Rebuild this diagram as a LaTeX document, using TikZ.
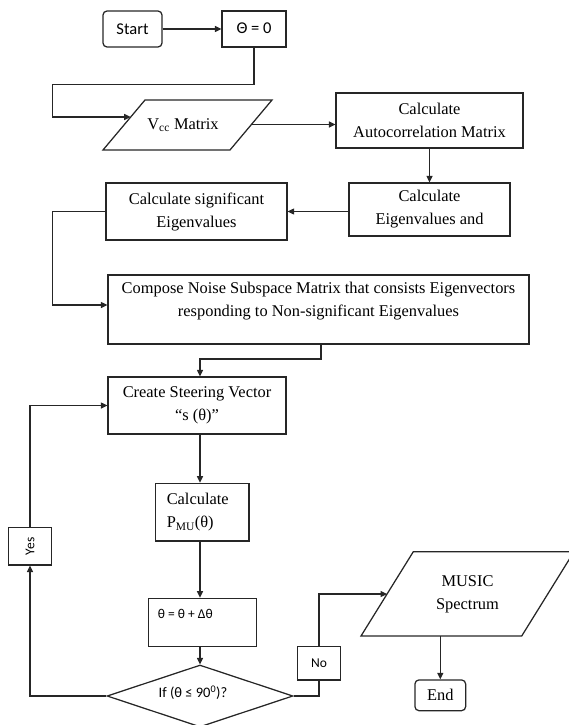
\documentclass[tikz,border=0pt]{standalone}
\usepackage{fontspec}
\setmainfont{Liberation Serif}
\newfontfamily\carlito{Carlito}
\usetikzlibrary{arrows.meta,shapes.geometric,calc}
\newcommand\fserif{\fontsize{16.4bp}{23bp}\selectfont}
\newcommand\fsansA{\carlito\fontsize{16.5bp}{19bp}\selectfont}
\newcommand\fsansB{\carlito\fontsize{13.5bp}{16bp}\selectfont}
\newcommand\fsansC{\carlito\fontsize{14.5bp}{17bp}\selectfont}
\begin{document}
\begin{tikzpicture}[x=1bp,y=-1bp,
  box/.style={draw=black!85, line width=1.25bp, inner sep=0pt, align=center, font=\fserif},
  arr/.style={draw=black!85, line width=1.25bp, -{Triangle[length=6.5bp,width=6bp]}},
  plain/.style={draw=black!85, line width=1.25bp, line join=miter},
  txt/.style={inner sep=0pt, align=center}]
\useasboundingbox (0,0) rectangle (569,725);
% parallelogram outlines
\draw[plain] (103,150) -- (145,100) -- (272,100) -- (230,150) -- cycle;
\draw[plain] (361,636) -- (413.3,551.7) -- (574,551.7) -- (521.7,636) -- cycle;
% nodes
\node[box, rounded corners=4bp, minimum width=59bp, minimum height=36bp, font=\fsansA] (start) at (132.5,29) {Start};
\node[box, minimum width=64bp, minimum height=36bp, font=\fsansA] (theta0) at (254,29) {\raisebox{2bp}{Θ = 0}};
\node[txt, font=\fserif] (vcc) at (183,125) {V\textsubscript{cc} Matrix};
\node[box, minimum width=187bp, minimum height=55bp] (auto) at (429.5,120.5) {Calculate\\Autocorrelation Matrix};
\node[box, minimum width=161bp, minimum height=53bp] (eig) at (429.5,209.5) {Calculate\\Eigenvalues and};
\node[box, minimum width=181bp, minimum height=57bp] (sig) at (196.5,211.5) {Calculate significant\\Eigenvalues};
\node[box, minimum width=421bp, minimum height=69bp] (comp) at (318.5,309.5) {};
\node[txt, font=\fserif] (comptext) at (318.5,301.5) {Compose Noise Subspace Matrix that consists Eigenvectors\\responding to Non-significant Eigenvalues};
\node[box, minimum width=178bp, minimum height=57bp] (steer) at (197,405.5) {Create Steering Vector\\“s (θ)”};
\node[box, minimum width=93.3bp, minimum height=57.7bp, align=left, text width=71.3bp, inner xsep=11bp] (calcp) at (202.4,512.2) {Calculate\\P\textsubscript{MU}(θ)};
\node[box, minimum width=108.4bp, minimum height=48.4bp] (inc) at (202.5,622.5) {};
\node[txt, font=\fsansB, anchor=west] (inctext) at (157.7,614) {θ = θ + Δθ};
\node[box, diamond, minimum width=186bp, minimum height=62bp] (dec) at (200,696) {};
\node[txt, font=\fsansC] (dectext) at (193,693) {If (θ ≤ 90\textsuperscript{0})?};
\node[box, minimum width=43.4bp, minimum height=37.3bp, font=\fsansB] (yes) at (30,546.3) {\rotatebox{90}{Yes}};
\node[box, minimum width=43.4bp, minimum height=33.3bp, font=\fsansB] (no) at (319,663.3) {No};
\node[txt, font=\fserif] (music) at (467.5,594) {MUSIC\\Spectrum};
\node[box, rounded corners=4bp, minimum width=50.7bp, minimum height=30.7bp] (end) at (440.3,695.3) {End};
% helper coordinates
\coordinate (k1) at (52.5,84.5);
\coordinate (vccin) at (130.7,117);
\coordinate (vccout) at (251,124.5);
\coordinate (musin) at (387.1,594);
\coordinate (musout) at (440.3,636);
\coordinate (k2) at (52.3,305);
\coordinate (k3) at (321,359);
\coordinate (k4) at (200,359);
% connectors
\draw[arr] (start) -- (theta0);
\draw[arr] (theta0.south) |- (k1) |- (vccin);
\draw[arr] (vccout) -- (vccout -| auto.west);
\draw[arr] (auto.south) -- (eig.north);
\draw[arr] (eig.west |- sig.east) -- (sig.east);
\draw[arr] (sig.west) -| (k2) -- (k2 -| comp.west);
\draw[arr] (k3 |- comp.south) -- (k3) -- (k4) -- (k4 |- steer.north);
\draw[arr] (k4 |- steer.south) -- (k4 |- calcp.north);
\draw[arr] (k4 |- calcp.south) -- (k4 |- inc.north);
\draw[arr] (k4 |- inc.south) -- (dec.north);
\draw[arr] (dec.west) -| (yes.south);
\draw[arr] (yes.north) |- (steer.west);
\draw[plain] (dec.east) -| (no.south);
\draw[arr] (no.north) |- (musin);
\draw[arr] (musout) -- (end.north);
\end{tikzpicture}
\end{document}
